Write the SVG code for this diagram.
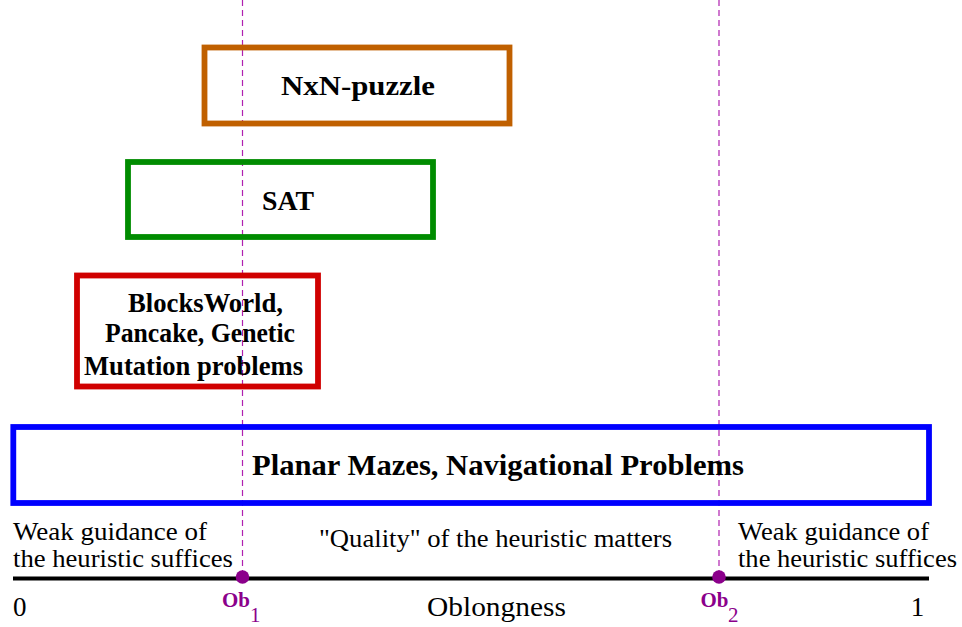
<svg xmlns="http://www.w3.org/2000/svg" width="962" height="627" viewBox="0 0 962 627">
<style>
.box{fill:none;stroke-width:5.8}
.lbl{font-family:"Liberation Serif","Times New Roman",serif;font-weight:bold;fill:#000}
.txt{font-family:"Liberation Serif","Times New Roman",serif;fill:#000}
.ob{font-family:"Liberation Serif","Times New Roman",serif;fill:#8b008b}
.guide{stroke:#b020b0;stroke-width:1.2;stroke-dasharray:6,4;fill:none}
</style>
<rect width="962" height="627" fill="#fff"/>
<g id="connectors">
<line class="guide" x1="242.5" y1="0" x2="242.5" y2="572"/>
<line class="guide" x1="719" y1="0" x2="719" y2="572"/>
</g>
<g id="nxn">
<rect class="box" x="204.5" y="47.5" width="305" height="76" stroke="#c06000"/>
<text class="lbl" x="281" y="95" font-size="27.5" textLength="154" lengthAdjust="spacingAndGlyphs">NxN-puzzle</text>
</g>
<g id="sat">
<rect class="box" x="128" y="162" width="305" height="75" stroke="#008c00"/>
<text class="lbl" x="262" y="210" font-size="27.5" textLength="52" lengthAdjust="spacingAndGlyphs">SAT</text>
</g>
<g id="blocks">
<rect class="box" x="77" y="275.5" width="241" height="111" stroke="#d00000"/>
<text class="lbl" x="128" y="312" font-size="26.5" textLength="155" lengthAdjust="spacingAndGlyphs">BlocksWorld,</text>
<text class="lbl" x="105" y="342" font-size="26.5" textLength="190" lengthAdjust="spacingAndGlyphs">Pancake, Genetic</text>
<text class="lbl" x="84" y="375" font-size="26.5" textLength="219" lengthAdjust="spacingAndGlyphs">Mutation problems</text>
</g>
<g id="planar">
<rect class="box" x="13.3" y="427" width="915.7" height="76" stroke="#0000ff"/>
<text class="lbl" x="252" y="475" font-size="29" textLength="492" lengthAdjust="spacingAndGlyphs">Planar Mazes, Navigational Problems</text>
</g>
<g id="axis">
<line x1="13" y1="578.5" x2="929" y2="578.5" stroke="#000" stroke-width="4"/>
<circle cx="242.5" cy="577" r="6.8" fill="#8b008b"/>
<circle cx="719" cy="577" r="6.8" fill="#8b008b"/>
<text class="txt" x="13" y="540" font-size="25.5" textLength="194" lengthAdjust="spacingAndGlyphs">Weak guidance of</text>
<text class="txt" x="13" y="567" font-size="25.5" textLength="220" lengthAdjust="spacingAndGlyphs">the heuristic suffices</text>
<text class="txt" x="319" y="547" font-size="25.5" textLength="353" lengthAdjust="spacingAndGlyphs">"Quality" of the heuristic matters</text>
<text class="txt" x="738" y="540" font-size="25.5" textLength="191" lengthAdjust="spacingAndGlyphs">Weak guidance of</text>
<text class="txt" x="738" y="567" font-size="25.5" textLength="219" lengthAdjust="spacingAndGlyphs">the heuristic suffices</text>
<text class="txt" x="13" y="616" font-size="27">0</text>
<text class="txt" x="917.5" y="616" font-size="27" text-anchor="middle">1</text>
<text class="txt" x="427" y="616" font-size="28" textLength="139" lengthAdjust="spacingAndGlyphs">Oblongness</text>
<text class="ob" x="222" y="607" font-size="22" font-weight="bold" textLength="28" lengthAdjust="spacingAndGlyphs">Ob</text>
<text class="ob" x="250" y="622" font-size="21">1</text>
<text class="ob" x="700.5" y="607" font-size="22" font-weight="bold" textLength="28" lengthAdjust="spacingAndGlyphs">Ob</text>
<text class="ob" x="728" y="622" font-size="21">2</text>
</g>
</svg>
